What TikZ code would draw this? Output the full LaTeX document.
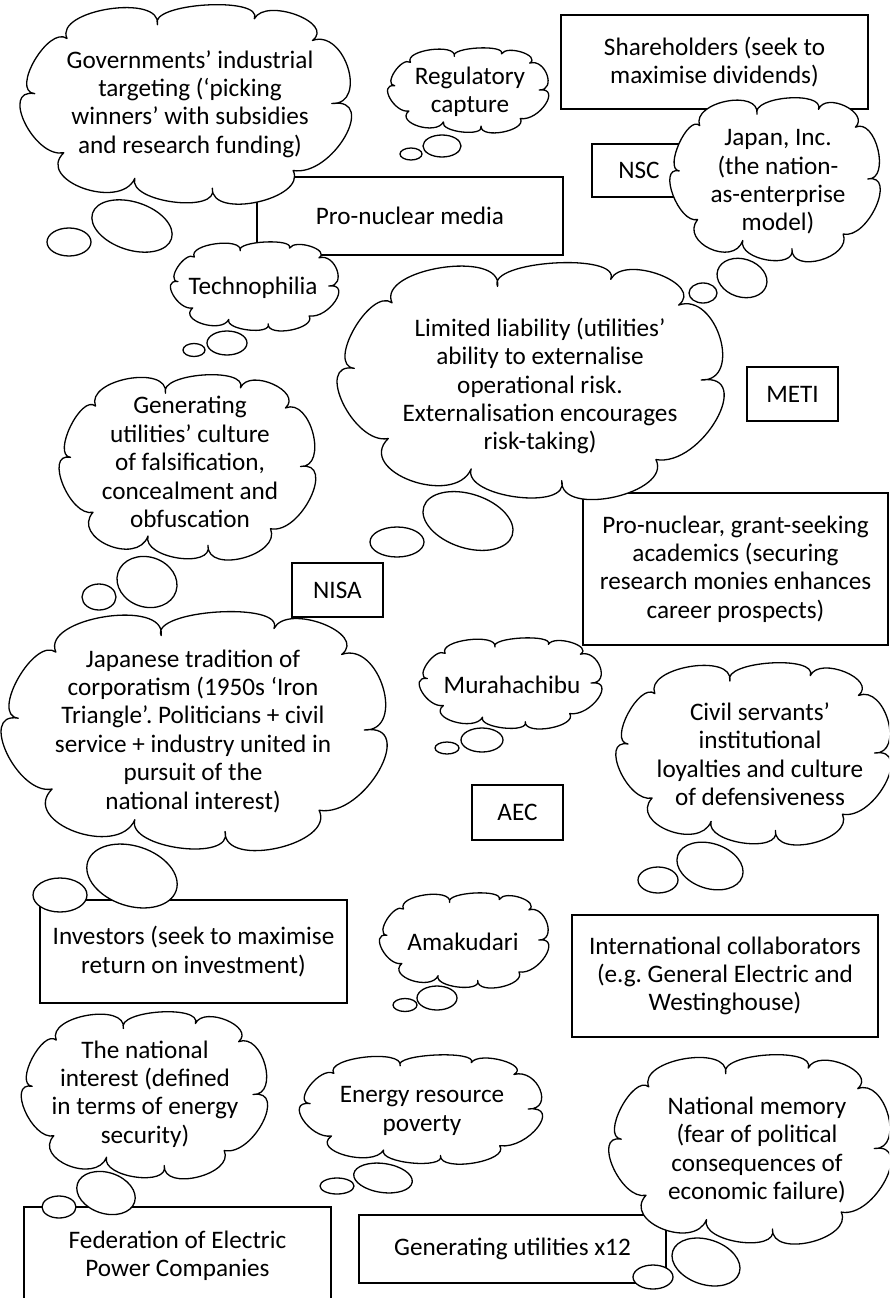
\documentclass[tikz,border=0pt]{standalone}
\usepackage{fontspec}
\setmainfont{Carlito}
\usetikzlibrary{shapes.geometric}

\tikzset{
  words/.style={font=\fontsize{25.2}{28.4}\selectfont, align=center, inner sep=0pt},
  actor/.style={draw, rectangle, line width=1.3pt, fill=white, inner sep=0pt, words},
  cloudbox/.style={inner sep=0pt, outer sep=0pt},
  thought/.style={draw, fill=white, line width=1.3pt, line join=round},
  bubble/.style={draw, ellipse, line width=1.3pt, fill=white, inner sep=0pt},
  tilted/.style={bubble, rotate=-18},
}

% A thought cloud: named frame #1 centred at (#2,#3), #4 x #5 points.
% Ten puffs, laid out on a 100 x 100 grid (y downwards) and stretched to the frame.
\newcommand\thoughtcloud[5]{%
  \node[cloudbox, minimum width=#4pt, minimum height=#5pt] (#1) at (#2,#3) {};
  \begin{scope}[shift={(#1.north west)}, xscale=#4/100, yscale=#5/100]
    \path[thought] (3,45)
      .. controls (-4.67,43.80) and (7.33,10.20) .. (13,17)
      .. controls (8.87,2.37) and (42.47,-6.03) .. (41,10)
      .. controls (38.00,-1.03) and (74.00,-4.63) .. (71,7)
      .. controls (74.53,-4.10) and (96.13,9.10) .. (89,18)
      .. controls (99.07,12.13) and (106.27,50.53) .. (95,50)
      .. controls (109.53,46.60) and (95.13,87.40) .. (83,84)
      .. controls (87.50,98.43) and (57.50,109.23) .. (58,93)
      .. controls (60.39,106.16) and (31.59,100.16) .. (34,88)
      .. controls (29.53,104.63) and (3.13,89.03) .. (12,75)
      .. controls (2.90,78.00) and (-7.90,42.00) .. (3,45)
      -- cycle;
  \end{scope}}

\begin{document}
\frenchspacing
\begin{tikzpicture}[x=1pt,y=-1pt]
\fill[white] (0,0) rectangle (889,1298);
\useasboundingbox (0,0) rectangle (889,1298);
\clip (0,0) rectangle (889,1298);

% ---- actors (boxes) ----
\node[actor, minimum width=307pt, minimum height=94pt] (share) at (714.5,62) {Shareholders (seek to\\maximise dividends)};
\node[actor, minimum width=94pt, minimum height=53pt] (nsc) at (639,170.5) {NSC};
\node[actor, minimum width=306pt, minimum height=78pt] (media) at (410,216) {Pro-nuclear media};
\node[actor, minimum width=91pt, minimum height=54pt] (meti) at (792.5,394) {METI};
\node[actor, minimum width=305pt, minimum height=152pt] (acad) at (735.5,569) {Pro-nuclear, grant-seeking\\academics (securing\\research monies enhances\\career prospects)};
\node[actor, minimum width=91pt, minimum height=54pt] (nisa) at (337.5,590) {NISA};
\node[actor, minimum width=91pt, minimum height=55pt] (aec) at (517.5,812.5) {AEC};
\node[actor, minimum width=307pt, minimum height=103pt] (invest) at (193.5,951.5) {Investors (seek to maximise\\return on investment)};
\node[actor, minimum width=306pt, minimum height=122pt] (intl) at (725,976) {International collaborators\\(e.g. General Electric and\\Westinghouse)};
\node[actor, minimum width=307pt, minimum height=98pt] (fepc) at (177.5,1256) {Federation of Electric\\Power Companies};
\node[actor, minimum width=307pt, minimum height=68pt] (utils) at (512.5,1249) {Generating utilities x12};

% ---- thought clouds ----
\thoughtcloud{gov}{186.5}{103.5}{323}{197}
\thoughtcloud{regcap}{468.5}{90}{157}{84}
\thoughtcloud{japinc}{775.5}{179}{205}{162}
\thoughtcloud{techno}{255}{286}{164}{88}
\thoughtcloud{liab}{531.5}{380}{377}{234}
\thoughtcloud{cult}{188}{466.5}{250}{183}
\thoughtcloud{corp}{195}{730}{376}{236}
\thoughtcloud{mura}{511}{683}{178}{90}
\thoughtcloud{civil}{754}{753}{268}{180}
\thoughtcloud{amak}{464.5}{940}{165}{94}
\thoughtcloud{natint}{145}{1094.5}{240}{165}
\thoughtcloud{energy}{421.5}{1109}{237}{108}
\thoughtcloud{natmem}{750.5}{1148.5}{275}{187}

% ---- thought bubbles trailing each cloud ----
\node[tilted, minimum width=83pt, minimum height=48pt] (govA) at (132,226) {};
\node[bubble, minimum width=44pt, minimum height=28pt] (govB) at (69,242) {};
\node[bubble, minimum width=38pt, minimum height=22pt] (regcapA) at (442,146) {};
\node[bubble, minimum width=22pt, minimum height=12pt] (regcapB) at (411,154) {};
\node[tilted, minimum width=51pt, minimum height=38pt] (japincA) at (742,278) {};
\node[bubble, minimum width=28pt, minimum height=20pt] (japincB) at (703,293) {};
\node[bubble, minimum width=40pt, minimum height=24pt] (technoA) at (227,343) {};
\node[bubble, minimum width=22pt, minimum height=13pt] (technoB) at (194,350) {};
\node[tilted, minimum width=93pt, minimum height=54pt] (liabA) at (468,521) {};
\node[bubble, minimum width=54pt, minimum height=30pt] (liabB) at (397,542) {};
\node[tilted, minimum width=61pt, minimum height=50pt] (cultA) at (147,582) {};
\node[bubble, minimum width=34pt, minimum height=26pt] (cultB) at (99,597) {};
\node[tilted, minimum width=93pt, minimum height=60pt] (corpA) at (132,876) {};
\node[bubble, minimum width=54pt, minimum height=34pt] (corpB) at (60,895) {};
\node[bubble, minimum width=42pt, minimum height=24pt] (muraA) at (482,740) {};
\node[bubble, minimum width=24pt, minimum height=12pt] (muraB) at (447,748) {};
\node[tilted, minimum width=68pt, minimum height=45pt] (civilA) at (710,866) {};
\node[bubble, minimum width=40pt, minimum height=26pt] (civilB) at (658,880) {};
\node[bubble, minimum width=40pt, minimum height=24pt] (amakA) at (437,998) {};
\node[bubble, minimum width=24pt, minimum height=13pt] (amakB) at (405,1005) {};
\node[tilted, minimum width=60pt, minimum height=41pt] (natintA) at (106,1193) {};
\node[bubble, minimum width=34pt, minimum height=22pt] (natintB) at (59,1207) {};
\node[bubble, rotate=-8, minimum width=59pt, minimum height=29pt] (energyA) at (383,1178) {};
\node[bubble, minimum width=34pt, minimum height=16pt] (energyB) at (337,1186) {};
\node[tilted, minimum width=70pt, minimum height=45pt] (natmemA) at (706,1262) {};
\node[bubble, minimum width=40pt, minimum height=24pt] (natmemB) at (653,1277) {};

% ---- cloud texts ----
\node[words] (govT) at (190,104) {Governments’ industrial\\targeting (‘picking\\winners’ with subsidies\\and research funding)};
\node[words] (regcapT) at (470,92) {Regulatory\\capture};
\node[words] (japincT) at (778,182) {Japan, Inc.\\(the nation-\\as-enterprise\\model)};
\node[words] (technoT) at (253,288) {Technophilia};
\node[words] (liabT) at (540,386) {Limited liability (utilities’\\ability to externalise\\operational risk.\\Externalisation encourages\\risk-taking)};
\node[words] (cultT) at (190,462) {Generating\\utilities’ culture\\of falsification,\\concealment and\\obfuscation};
\node[words] (corpT) at (193,731) {Japanese tradition of\\corporatism (1950s ‘Iron\\Triangle’. Politicians + civil\\service + industry united in\\pursuit of the\\national interest)};
\node[words] (muraT) at (512,685) {Murahachibu};
\node[words] (civilT) at (760,754) {Civil servants’\\institutional\\loyalties and culture\\of defensiveness};
\node[words] (amakT) at (463,942) {Amakudari};
\node[words] (natintT) at (145,1094) {The national\\interest (defined\\in terms of energy\\security)};
\node[words] (energyT) at (422,1111) {Energy resource\\poverty};
\node[words] (natmemT) at (757,1150) {National memory\\(fear of political\\consequences of\\economic failure)};
\end{tikzpicture}
\end{document}
